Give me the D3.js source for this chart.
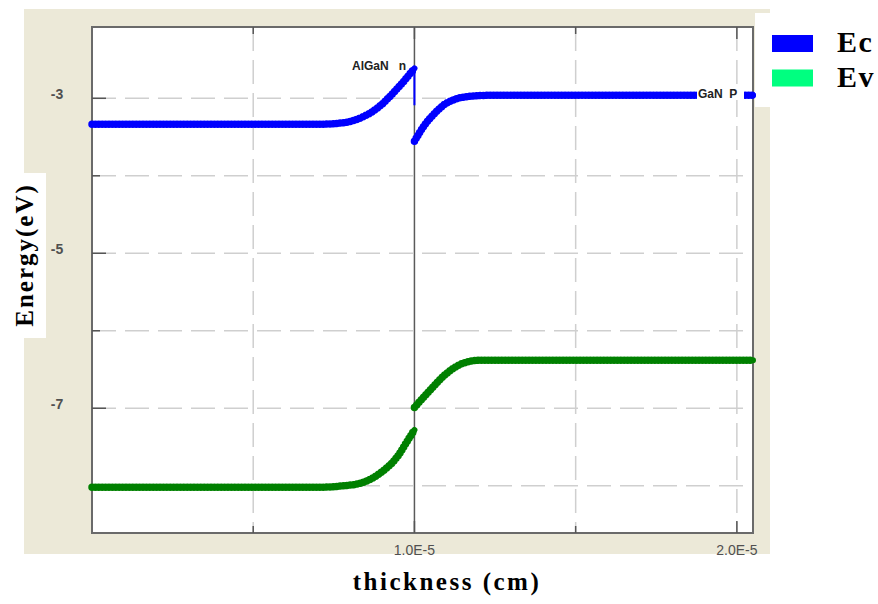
<!DOCTYPE html>
<html>
<head>
<meta charset="utf-8">
<script src="https://cdn.jsdelivr.net/npm/d3@7"></script>
<style>
  body { margin: 0; background: #fff; }
  svg { display: block; }
</style>
</head>
<body>
<div id="chart"></div>
<script>
// thickness in units of 1e-5 cm, energies in eV
const ecLeftX = [0, 0.5, 0.70, 0.78, 0.84, 0.89, 0.93, 0.965, 1.0];
const ecLeftY = [-3.335, -3.335, -3.335, -3.315, -3.24, -3.11, -2.95, -2.79, -2.613];
const ecRightX = [1.0, 1.031, 1.063, 1.094, 1.126, 1.172, 1.234, 1.6, 2.05];
const ecRightY = [-3.555, -3.348, -3.194, -3.077, -3.013, -2.974, -2.961, -2.96, -2.96];
const ecSpikeX = [1.0, 1.0];
const ecSpikeY = [-2.613, -3.09];

const evLeftX = [0, 0.5, 0.70, 0.78, 0.831, 0.893, 0.946, 0.98, 1.0];
const evLeftY = [-8.02, -8.02, -8.02, -8.0, -7.97, -7.84, -7.63, -7.41, -7.28];
const evRightX = [1.0, 1.048, 1.10, 1.15, 1.203, 1.6, 2.05];
const evRightY = [-6.99, -6.77, -6.55, -6.42, -6.38, -6.38, -6.38];

const yGrid = [-8, -7, -6, -5, -4, -3];
const yLabels = [-3, -5, -7];
const xGrid = [0.5, 1.5, 2.0];
const xLabels = [1.0, 2.0];
const xLabelText = ['1.0E-5', '2.0E-5'];

const legendNames = ['Ec', 'Ev'];
const legendColors = ['#0000ff', '#00ff80'];

const W = 878, H = 604;
const margin = { top: 27, right: 125, bottom: 71, left: 92 };

const x = d3.scaleLinear().domain([0, 2.05]).range([margin.left, W - margin.right]);
const y = d3.scaleLinear().domain([-8.61, -2.08]).range([H - margin.bottom, margin.top]);

const svg = d3.select('#chart').append('svg')
  .attr('width', W)
  .attr('height', H);

// beige panel behind the plot
svg.append('rect')
  .attr('x', 24).attr('y', 9)
  .attr('width', 746).attr('height', 545)
  .attr('fill', '#ece9d8');

svg.append('rect')
  .attr('x', margin.left).attr('y', margin.top)
  .attr('width', x.range()[1] - margin.left)
  .attr('height', y.range()[0] - margin.top)
  .attr('fill', '#fff');

// legend box
svg.append('rect')
  .attr('x', 755).attr('y', 13)
  .attr('width', 123).attr('height', 94)
  .attr('fill', '#fff');

// white box behind y title
svg.append('rect')
  .attr('x', 24).attr('y', 173)
  .attr('width', 22).attr('height', 165)
  .attr('fill', '#fff');

const g = svg.append('g');

// grid
g.selectAll('.hgrid')
  .data(yGrid)
  .enter().append('line')
  .attr('x1', margin.left).attr('x2', x.range()[1])
  .attr('y1', d => y(d)).attr('y2', d => y(d))
  .attr('stroke', '#cfcfcf')
  .attr('stroke-width', 1.5)
  .attr('stroke-dasharray', '24,9');

g.selectAll('.vgrid')
  .data(xGrid)
  .enter().append('line')
  .attr('x1', d => x(d)).attr('x2', d => x(d))
  .attr('y1', margin.top).attr('y2', y.range()[0])
  .attr('stroke', '#cfcfcf')
  .attr('stroke-width', 1.5)
  .attr('stroke-dasharray', '24,9');

// interface line
g.append('line')
  .attr('x1', x(1)).attr('x2', x(1))
  .attr('y1', margin.top).attr('y2', y.range()[0])
  .attr('stroke', '#5a5a5a')
  .attr('stroke-width', 1.5);

// frame
g.append('rect')
  .attr('x', margin.left).attr('y', margin.top)
  .attr('width', x.range()[1] - margin.left)
  .attr('height', y.range()[0] - margin.top)
  .attr('fill', 'none')
  .attr('stroke', '#6a6a6a')
  .attr('stroke-width', 2);

// ticks
g.selectAll('.ytick')
  .data(yGrid)
  .enter().append('line')
  .attr('x1', margin.left)
  .attr('x2', d => margin.left + (yLabels.includes(d) ? 14 : 8))
  .attr('y1', d => y(d)).attr('y2', d => y(d))
  .attr('stroke', '#555').attr('stroke-width', 1.5);

const xTicks = [0.5, 1.0, 1.5, 2.0];
['bottom', 'top'].forEach(side => {
  const y0 = side === 'bottom' ? y.range()[0] : margin.top;
  const dir = side === 'bottom' ? -1 : 1;
  g.selectAll('.xtick-' + side)
    .data(xTicks)
    .enter().append('line')
    .attr('x1', d => x(d)).attr('x2', d => x(d))
    .attr('y1', y0)
    .attr('y2', d => y0 + dir * (xLabels.includes(d) ? 12 : 7))
    .attr('stroke', '#555').attr('stroke-width', 1.5);
});

g.selectAll('.ylabel')
  .data(yLabels)
  .enter().append('text')
  .attr('x', 57)
  .attr('y', d => y(d) + 1)
  .attr('text-anchor', 'middle')
  .attr('font-family', 'Liberation Sans, Arial, sans-serif')
  .attr('font-weight', 'bold')
  .attr('font-size', 14)
  .attr('fill', '#505050')
  .text(d => d);

g.selectAll('.xlabel')
  .data(xLabels)
  .enter().append('text')
  .attr('x', d => x(d))
  .attr('y', 555)
  .attr('text-anchor', 'middle')
  .attr('font-family', 'Liberation Sans, Arial, sans-serif')
  .attr('font-size', 14)
  .attr('fill', '#505050')
  .text((d, i) => xLabelText[i]);

// curves
const line = d3.line()
  .x(d => x(d[0]))
  .y(d => y(d[1]))
  .curve(d3.curveMonotoneX);

const zip = (a, b) => a.map((v, i) => [v, b[i]]);

const series = [
  { pts: zip(ecLeftX, ecLeftY), color: '#0000ff' },
  { pts: zip(ecRightX, ecRightY), color: '#0000ff' },
  { pts: zip(evLeftX, evLeftY), color: '#008000' },
  { pts: zip(evRightX, evRightY), color: '#008000' }
];

series.forEach(s => {
  g.append('path')
    .datum(s.pts)
    .attr('fill', 'none')
    .attr('stroke', s.color)
    .attr('stroke-width', 6)
    .attr('stroke-linecap', 'round')
    .attr('stroke-linejoin', 'round')
    .attr('d', line);
  // beaded look of the mesh points
  g.append('path')
    .datum(s.pts)
    .attr('fill', 'none')
    .attr('stroke', s.color)
    .attr('stroke-width', 7.5)
    .attr('stroke-linecap', 'round')
    .attr('stroke-dasharray', '0,3.4')
    .attr('d', line);
});

g.append('line')
  .attr('x1', x(ecSpikeX[0])).attr('x2', x(ecSpikeX[1]))
  .attr('y1', y(ecSpikeY[0])).attr('y2', y(ecSpikeY[1]))
  .attr('stroke', '#0000ff')
  .attr('stroke-width', 2);

// region labels
g.append('text')
  .attr('x', 406).attr('y', 70)
  .attr('text-anchor', 'end')
  .attr('font-family', 'Liberation Sans, Arial, sans-serif')
  .attr('font-weight', 'bold')
  .attr('font-size', 12)
  .attr('fill', '#222')
  .style('white-space', 'pre')
  .text('AlGaN   n');

const gl = g.append('g');
gl.append('rect')
  .attr('x', 697).attr('y', 86)
  .attr('width', 47).attr('height', 14)
  .attr('fill', '#fff');
gl.append('text')
  .attr('x', 698).attr('y', 98)
  .attr('font-family', 'Liberation Sans, Arial, sans-serif')
  .attr('font-weight', 'bold')
  .attr('font-size', 12)
  .attr('fill', '#222')
  .style('white-space', 'pre')
  .text('GaN  P');

// axis titles
svg.append('text')
  .attr('transform', 'translate(33,255) rotate(-90)')
  .attr('text-anchor', 'middle')
  .attr('font-family', 'Liberation Serif, Times New Roman, serif')
  .attr('font-weight', 'bold')
  .attr('font-size', 25)
  .attr('letter-spacing', 2)
  .text('Energy(eV)');

svg.append('text')
  .attr('x', 447).attr('y', 590)
  .attr('text-anchor', 'middle')
  .attr('font-family', 'Liberation Serif, Times New Roman, serif')
  .attr('font-weight', 'bold')
  .attr('font-size', 25)
  .attr('letter-spacing', 2.5)
  .text('thickness (cm)');

// legend
const leg = svg.selectAll('.legend')
  .data(legendNames)
  .enter().append('g')
  .attr('transform', (d, i) => 'translate(772,' + (35 + i * 34.5) + ')');

leg.append('rect')
  .attr('width', 41).attr('height', 17)
  .attr('fill', (d, i) => legendColors[i]);

leg.append('text')
  .attr('x', 65).attr('y', 17)
  .attr('font-family', 'Liberation Serif, Times New Roman, serif')
  .attr('font-weight', 'bold')
  .attr('font-size', 30)
  .attr('letter-spacing', 1.5)
  .text(d => d);
</script>
</body>
</html>
